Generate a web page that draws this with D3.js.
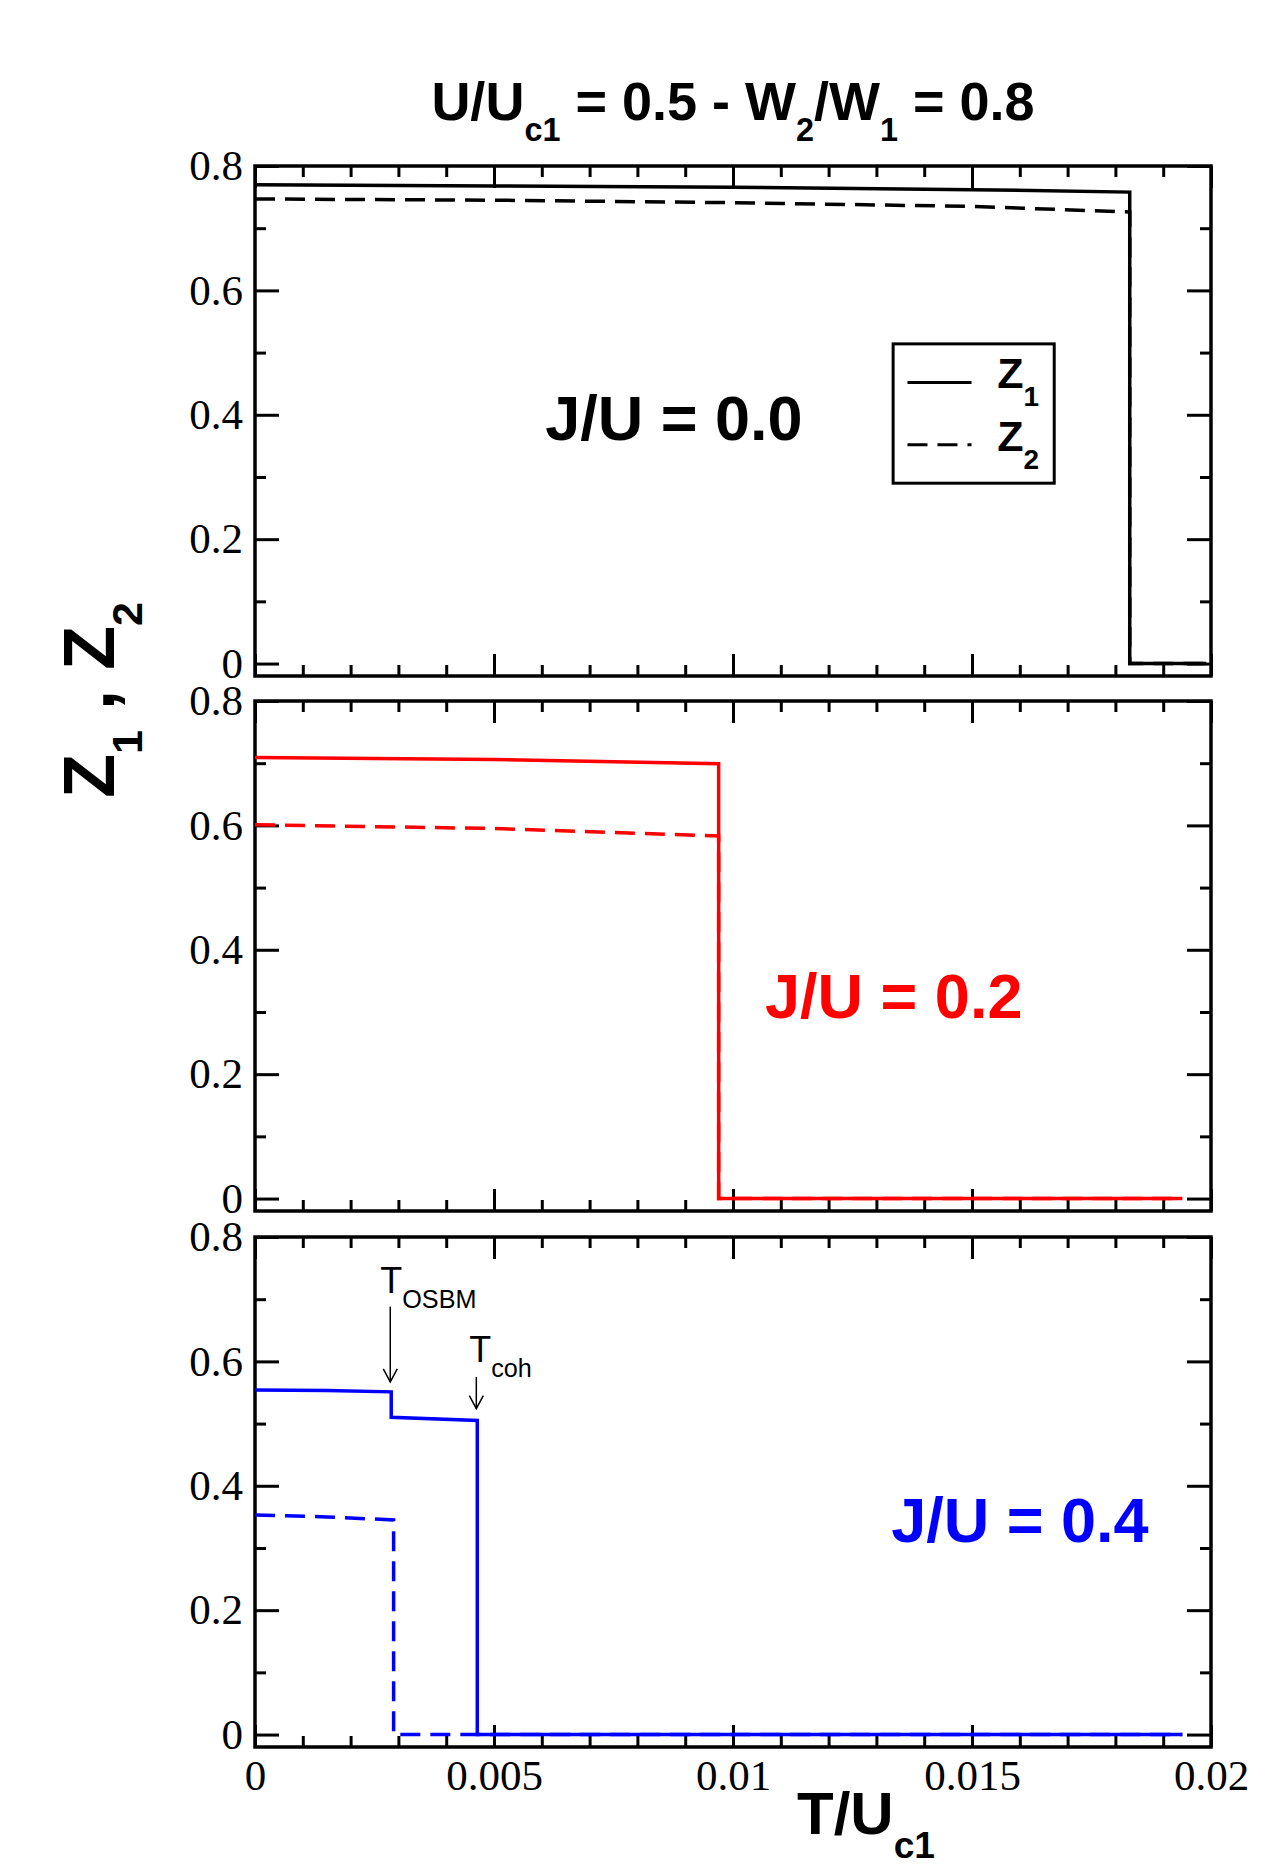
<!DOCTYPE html>
<html>
<head>
<meta charset="utf-8">
<script src="https://cdn.jsdelivr.net/npm/d3@7"></script>
<style>
  body { margin: 0; background: #fff; }
  text { white-space: pre; }
</style>
</head>
<body>
<div id="chart"></div>
<script>
const width = 1275
const height = 1875

const xTicks = [0, 0.005, 0.01, 0.015, 0.02]
const xMinor = [0.001, 0.002, 0.003, 0.004, 0.006, 0.007, 0.008, 0.009, 0.011, 0.012, 0.013, 0.014, 0.016, 0.017, 0.018, 0.019]
const yTicks = [0, 0.2, 0.4, 0.6, 0.8]
const yMinor = [0.1, 0.3, 0.5, 0.7]

// J/U = 0.0
const z1J00 = [[0, 0.770], [0.005, 0.768], [0.01, 0.766], [0.015, 0.762], [0.0183, 0.758], [0.0183, 0], [0.0199, 0]]
const z2J00 = [[0, 0.747], [0.005, 0.745], [0.01, 0.741], [0.015, 0.735], [0.0183, 0.726], [0.0183, 0], [0.0199, 0]]
// J/U = 0.2
const z1J02 = [[0, 0.709], [0.005, 0.706], [0.0097, 0.699], [0.0097, 0], [0.0194, 0]]
const z2J02 = [[0, 0.601], [0.005, 0.595], [0.0097, 0.583], [0.0097, 0], [0.0194, 0]]
// J/U = 0.4
const z1J04 = [[0, 0.554], [0.0015, 0.553], [0.00285, 0.551], [0.00285, 0.510], [0.00465, 0.505], [0.00465, 0], [0.0194, 0]]
const z2J04 = [[0, 0.353], [0.0015, 0.350], [0.0029, 0.345], [0.0029, 0], [0.0194, 0]]

const panelLabels = ['J/U = 0.0', 'J/U = 0.2', 'J/U = 0.4']
const panelColours = ['#000000', '#ff0000', '#0000ff']
const seriesNames = ['Z|1', 'Z|2']

const left = 255
const right = 1211
const panelTops = [166, 701, 1237]
const panelHeight = 510
const labelPos = [[0.00607, 0.36], [0.01067, 0.29], [0.01331, 0.31]]

const sans = "'Liberation Sans', Arial, Helvetica, sans-serif"
const serif = "'Liberation Serif', 'Times New Roman', serif"

const x = d3.scaleLinear().domain([0, 0.02]).range([left, right])
const y = d3.scaleLinear().domain([-0.02, 0.8]).range([panelHeight, 0])
const line = d3.line().x(d => x(d[0])).y(d => y(d[1]))

const svg = d3.select('#chart')
  .append('svg')
  .attr('width', width)
  .attr('height', height)
  .style('background', '#fff')

// text with subscripts, parts starting with '_' are lowered
function richText (sel, parts, size, subScale, shift) {
  let low = false
  parts.forEach(p => {
    const sub = p[0] === '_'
    const t = sel.append('tspan').text(sub ? p.slice(1) : p)
    if (sub) {
      t.attr('font-size', size * subScale)
      if (!low) t.attr('dy', shift)
    } else if (low) {
      t.attr('dy', -shift)
    }
    low = sub
  })
  return sel
}

const styleAxis = a => {
  a.select('.domain').remove()
  a.selectAll('line').attr('stroke', '#000').attr('stroke-width', 3)
  a.attr('font-family', serif).attr('font-size', 43)
  a.selectAll('text').attr('fill', '#000')
}

const panels = [
  [z1J00, z2J00],
  [z1J02, z2J02],
  [z1J04, z2J04]
]

panels.forEach((series, i) => {
  const g = svg.append('g').attr('transform', `translate(0,${panelTops[i]})`)
  const last = i === panels.length - 1

  g.append('g').attr('transform', `translate(0,${panelHeight})`)
    .call(d3.axisBottom(x).tickValues(xTicks).tickSize(-22).tickPadding(12).tickFormat(last ? d => String(d) : () => ''))
    .call(styleAxis)
  g.append('g').attr('transform', `translate(0,${panelHeight})`)
    .call(d3.axisBottom(x).tickValues(xMinor).tickSize(-11).tickFormat(() => ''))
    .call(styleAxis)
  g.append('g')
    .call(d3.axisTop(x).tickValues(xTicks).tickSize(-22).tickFormat(() => ''))
    .call(styleAxis)
  g.append('g')
    .call(d3.axisTop(x).tickValues(xMinor).tickSize(-11).tickFormat(() => ''))
    .call(styleAxis)

  g.append('g').attr('transform', `translate(${left},0)`)
    .call(d3.axisLeft(y).tickValues(yTicks).tickSize(-24).tickPadding(12).tickFormat(d => String(d)))
    .call(styleAxis)
  g.append('g').attr('transform', `translate(${left},0)`)
    .call(d3.axisLeft(y).tickValues(yMinor).tickSize(-11).tickFormat(() => ''))
    .call(styleAxis)
  g.append('g').attr('transform', `translate(${right},0)`)
    .call(d3.axisRight(y).tickValues(yTicks).tickSize(-24).tickFormat(() => ''))
    .call(styleAxis)
  g.append('g').attr('transform', `translate(${right},0)`)
    .call(d3.axisRight(y).tickValues(yMinor).tickSize(-11).tickFormat(() => ''))
    .call(styleAxis)

  g.append('rect')
    .attr('x', left)
    .attr('y', 0)
    .attr('width', right - left)
    .attr('height', panelHeight)
    .attr('fill', 'none')
    .attr('stroke', '#000')
    .attr('stroke-width', 3.5)

  series.forEach((d, k) => {
    g.append('path')
      .attr('d', line(d))
      .attr('fill', 'none')
      .attr('stroke', panelColours[i])
      .attr('stroke-width', 3.5)
      .attr('stroke-dasharray', k === 1 ? '20,10' : null)
  })

  g.append('text')
    .attr('x', x(labelPos[i][0]))
    .attr('y', y(labelPos[i][1]))
    .attr('font-family', sans)
    .attr('font-weight', 'bold')
    .attr('font-size', 63)
    .attr('fill', panelColours[i])
    .text(panelLabels[i])

  if (i === 0) {
    // legend
    const lg = g.append('g')
    lg.append('rect')
      .attr('x', x(0.01335))
      .attr('y', y(0.514))
      .attr('width', x(0.01672) - x(0.01335))
      .attr('height', y(0.290) - y(0.514))
      .attr('fill', '#fff')
      .attr('stroke', '#000')
      .attr('stroke-width', 3)
    seriesNames.forEach((name, k) => {
      const ly = y(0.452 - k * 0.1)
      lg.append('line')
        .attr('x1', x(0.01365))
        .attr('x2', x(0.01499))
        .attr('y1', ly)
        .attr('y2', ly)
        .attr('stroke', '#000')
        .attr('stroke-width', 3)
        .attr('stroke-dasharray', k === 1 ? '20,10' : null)
      const parts = name.split('|')
      richText(lg.append('text')
        .attr('x', x(0.01553))
        .attr('y', ly + 6)
        .attr('font-family', sans)
        .attr('font-weight', 'bold')
        .attr('font-size', 43), [parts[0], '_' + parts[1]], 43, 0.65, 18)
    })
  }

  if (last) {
    // transition arrows
    const arrows = [
      { x: 0.00283, y0: 0.688, y1: 0.567, tx: 0.00262, ty: 0.710, parts: ['T', '_OSBM'] },
      { x: 0.00463, y0: 0.575, y1: 0.524, tx: 0.00448, ty: 0.599, parts: ['T', '_coh'] }
    ]
    arrows.forEach(a => {
      const ax = x(a.x)
      const tip = y(a.y1)
      g.append('line')
        .attr('x1', ax).attr('x2', ax)
        .attr('y1', y(a.y0)).attr('y2', tip)
        .attr('stroke', '#000').attr('stroke-width', 1.5)
      g.append('path')
        .attr('d', `M${ax - 7},${tip - 13}L${ax},${tip}L${ax + 7},${tip - 13}`)
        .attr('fill', 'none').attr('stroke', '#000').attr('stroke-width', 1.5)
      richText(g.append('text')
        .attr('x', x(a.tx))
        .attr('y', y(a.ty))
        .attr('font-family', sans)
        .attr('font-size', 36), a.parts, 36, 0.7, 15)
    })
  }
})

// title
richText(svg.append('text')
  .attr('x', (left + right) / 2)
  .attr('y', 120)
  .attr('text-anchor', 'middle')
  .attr('font-family', sans)
  .attr('font-weight', 'bold')
  .attr('font-size', 54), ['U/U', '_c1', ' = 0.5 - W', '_2', '/W', '_1', ' = 0.8'], 54, 0.6, 21)

// x axis title
richText(svg.append('text')
  .attr('x', 797)
  .attr('y', 1834)
  .attr('font-family', sans)
  .attr('font-weight', 'bold')
  .attr('font-size', 60), ['T/U', '_c1'], 60, 0.62, 24)

// y axis title
richText(svg.append('text')
  .attr('transform', 'translate(114,700) rotate(-90)')
  .attr('text-anchor', 'middle')
  .attr('font-family', sans)
  .attr('font-weight', 'bold')
  .attr('font-size', 72), ['Z', '_1', ' , ', 'Z', '_2'], 72, 0.6, 28)
</script>
</body>
</html>
